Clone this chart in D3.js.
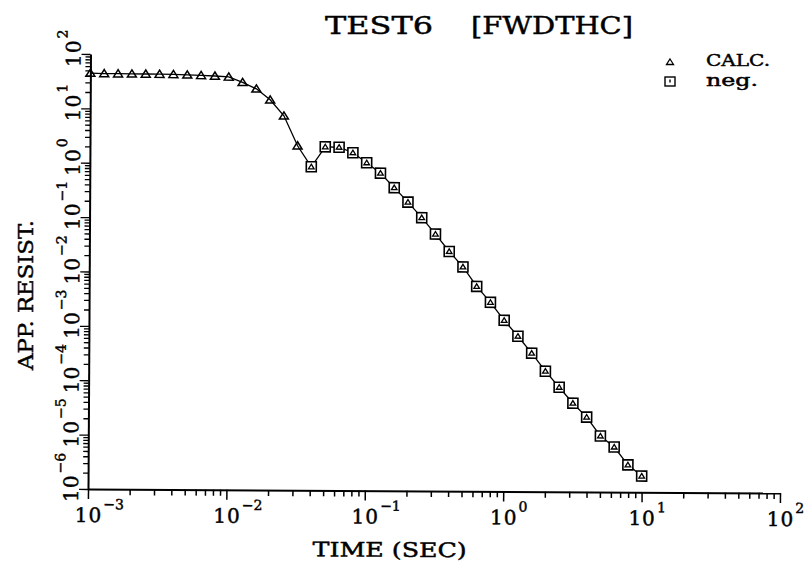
<!DOCTYPE html>
<html>
<head>
<meta charset="utf-8">
<script src="https://cdn.jsdelivr.net/npm/d3@7"></script>
<style>
  html, body { margin: 0; padding: 0; background: #fff; }
  svg { display: block; }
  text { font-family: "DejaVu Serif", "Liberation Serif", serif; fill: #000; stroke: #000; stroke-width: 0.45px; }
</style>
</head>
<body>
<svg id="chart" width="811" height="563"></svg>
<script>
// Sampling times (s), ten per decade
const times = [
  0.001, 0.001259, 0.001585, 0.001995, 0.002512, 0.003162, 0.003981, 0.005012, 0.00631, 0.007943,
  0.01, 0.01259, 0.01585, 0.01995, 0.02512, 0.03162, 0.03981, 0.05012, 0.0631, 0.07943,
  0.1, 0.1259, 0.1585, 0.1995, 0.2512, 0.3162, 0.3981, 0.5012, 0.631, 0.7943,
  1, 1.259, 1.585, 1.995, 2.512, 3.162, 3.981, 5.012, 6.31, 7.943,
  10
];
// Apparent resistivity (absolute value)
const appResist = [
  44.5, 43.9, 43.7, 43.6, 43.5, 43.3, 43.0, 42.3, 41.5, 40.6,
  39.2, 31.2, 23.8, 15.0, 7.64, 2.16, 0.89, 2.08, 2.05, 1.63,
  1.07, 0.69, 0.375, 0.204, 0.106, 0.0531, 0.0255, 0.0133, 0.00585, 0.00299,
  0.00140, 0.000716, 0.000351, 0.000164, 0.0000834, 0.0000426, 0.0000237, 0.0000107, 0.00000673, 0.00000317,
  0.00000198
];
// 1 where the computed value is negative
const negative = [
  0, 0, 0, 0, 0, 0, 0, 0, 0, 0,
  0, 0, 0, 0, 0, 0, 1, 1, 1, 1,
  1, 1, 1, 1, 1, 1, 1, 1, 1, 1,
  1, 1, 1, 1, 1, 1, 1, 1, 1, 1,
  1
];
const xDecades = [-3, -2, -1, 0, 1, 2];
const yDecades = [-6, -5, -4, -3, -2, -1, 0, 1, 2];
const titleParts = ["TEST6", "[FWDTHC]"];
const legendLabels = ["CALC.", "neg."];
const xTitle = "TIME (SEC)";
const yTitle = "APP. RESIST.";

const svg = d3.select("#chart");

const x = d3.scaleLog().domain([1e-3, 1e2]).range([88, 780]);
const y = d3.scaleLog().domain([1e-6, 1e2]).range([489, 54]);

const sup = e => (e < 0 ? "\u2212" + Math.abs(e) : String(e));
const isMajor = d => Math.abs(Math.log10(d) - Math.round(Math.log10(d))) < 1e-9;

// plot body, slightly skewed like the printed sheet
const g = svg.append("g").attr("transform", "rotate(0.33,88,489)");

// x axis
const xAxis = g.append("g")
  .attr("transform", `translate(0,${y.range()[0]})`)
  .call(d3.axisBottom(x).tickValues(x.ticks()).tickSize(6).tickSizeOuter(0).tickFormat(""));
xAxis.select(".domain").attr("stroke", "#000").attr("stroke-width", 2);
xAxis.selectAll(".tick line").attr("stroke", "#000").attr("stroke-width", 1.5)
  .attr("y2", d => isMajor(d) ? 10 : 6);

// y axis
const yAxis = g.append("g")
  .attr("transform", `translate(${x.range()[0]},0)`)
  .call(d3.axisLeft(y).tickValues(y.ticks()).tickSize(5).tickSizeOuter(0).tickFormat(""));
yAxis.select(".domain").attr("stroke", "#000").attr("stroke-width", 2);
yAxis.selectAll(".tick line").attr("stroke", "#000").attr("stroke-width", 1.3)
  .attr("x2", d => isMajor(d) ? -9 : -5);

// x tick labels: "10" centred on the tick, exponent raised
const xl = g.append("g").selectAll("text").data(xDecades).join("text")
  .attr("x", d => x(Math.pow(10, d)) - 13)
  .attr("y", 522)
  .attr("font-size", 20);
xl.append("tspan").attr("letter-spacing", 1).text("10");
xl.append("tspan").attr("font-size", 14).attr("dx", 1).attr("dy", -13).text(d => sup(d));

// y tick labels, rotated
const yl = g.append("g").selectAll("text").data(yDecades).join("text")
  .attr("transform", d => `translate(78,${y(Math.pow(10, d))}) rotate(-90)`)
  .attr("x", -13)
  .attr("y", 0)
  .attr("font-size", 20);
yl.append("tspan").attr("letter-spacing", 1).text("10");
yl.append("tspan").attr("font-size", 14).attr("dx", 1).attr("dy", -13).text(d => sup(d));

// data line
const pts = times.map((t, i) => ({ t, v: appResist[i], neg: negative[i] }));
g.append("path")
  .datum(pts)
  .attr("fill", "none")
  .attr("stroke", "#000")
  .attr("stroke-width", 1.3)
  .attr("d", d3.line().x(d => x(d.t)).y(d => y(d.v)));

const triPath = "M0,-4 L4.5,3.2 L-4.5,3.2 Z";
const smallTri = "M0,-2.6 L2.8,2 L-2.8,2 Z";

const marks = g.append("g").selectAll("g").data(pts).join("g")
  .attr("transform", d => `translate(${x(d.t)},${y(d.v)})`);
marks.filter(d => !d.neg).append("path")
  .attr("d", triPath).attr("fill", "none").attr("stroke", "#000").attr("stroke-width", 1.5);
marks.filter(d => d.neg).append("rect")
  .attr("x", -5).attr("y", -5).attr("width", 10).attr("height", 10)
  .attr("fill", "#fff").attr("stroke", "#000").attr("stroke-width", 1.6);
marks.filter(d => d.neg).append("path")
  .attr("d", smallTri).attr("fill", "none").attr("stroke", "#000").attr("stroke-width", 1.3);

// axis titles
g.append("text")
  .attr("x", 313).attr("y", 555)
  .attr("font-size", 20)
  .attr("textLength", 154).attr("lengthAdjust", "spacingAndGlyphs")
  .text(xTitle);

svg.append("text")
  .attr("transform", "translate(33,370) rotate(-90)")
  .attr("font-size", 21)
  .attr("textLength", 150).attr("lengthAdjust", "spacingAndGlyphs")
  .text(yTitle);

// title
svg.append("text")
  .attr("x", 325).attr("y", 34)
  .attr("font-size", 25)
  .attr("textLength", 108).attr("lengthAdjust", "spacingAndGlyphs")
  .text(titleParts[0]);
svg.append("text")
  .attr("x", 471).attr("y", 34)
  .attr("font-size", 25)
  .attr("textLength", 162).attr("lengthAdjust", "spacingAndGlyphs")
  .text(titleParts[1]);

// legend
const lg = svg.append("g");
lg.append("path").attr("transform", "translate(670,62)")
  .attr("d", "M0,-3 L3.5,2.5 L-3.5,2.5 Z").attr("fill", "none").attr("stroke", "#000").attr("stroke-width", 1.3);
lg.append("rect").attr("x", 665).attr("y", 77).attr("width", 10).attr("height", 9)
  .attr("fill", "none").attr("stroke", "#000").attr("stroke-width", 1.4);
lg.append("path").attr("transform", "translate(670,81.5)")
  .attr("d", "M0,-2 L0,1").attr("stroke", "#000").attr("stroke-width", 1.4);
lg.append("text").attr("x", 706).attr("y", 66).attr("font-size", 16)
  .attr("textLength", 64).attr("lengthAdjust", "spacingAndGlyphs").text(legendLabels[0]);
lg.append("text").attr("x", 706).attr("y", 86).attr("font-size", 16)
  .attr("textLength", 52).attr("lengthAdjust", "spacingAndGlyphs").text(legendLabels[1]);
</script>
</body>
</html>
